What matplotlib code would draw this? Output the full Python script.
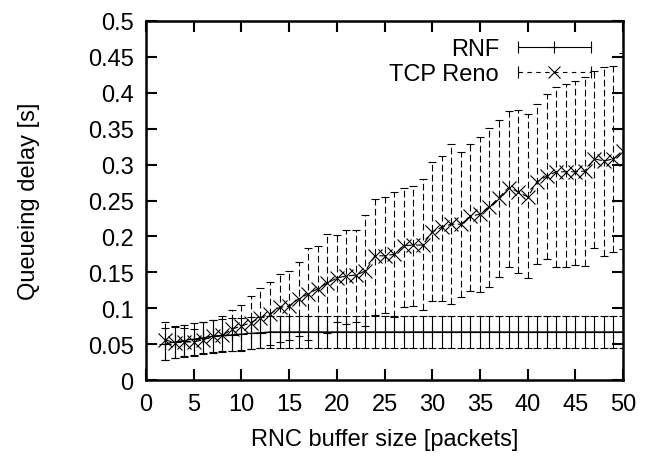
import matplotlib
matplotlib.use("Agg")
import matplotlib.pyplot as plt
from matplotlib.legend_handler import HandlerBase
from matplotlib.lines import Line2D

plt.rcParams["font.family"] = ["Liberation Sans", "DejaVu Sans"]

# buffer sizes [packets]
buffer_size = list(range(2, 51))

# RNF queueing delay [s]: mean, lower and upper bounds
rnf_mean = [0.050, 0.053, 0.055, 0.057, 0.059, 0.061, 0.062, 0.063, 0.064, 0.065, 0.066] + [0.067] * 38
rnf_low = [0.028, 0.030, 0.033, 0.035, 0.037, 0.039, 0.040, 0.041, 0.042, 0.043, 0.044] + [0.045] * 38
rnf_high = [0.072, 0.075, 0.077, 0.079, 0.081, 0.083, 0.085, 0.086, 0.087, 0.088, 0.088] + [0.089] * 38

# TCP Reno queueing delay [s]
reno_mean = [0.056, 0.052, 0.053, 0.053, 0.056, 0.061, 0.062, 0.071, 0.075, 0.080,
             0.087, 0.092, 0.101, 0.103, 0.113, 0.120, 0.127, 0.135, 0.142, 0.145,
             0.146, 0.152, 0.173, 0.173, 0.175, 0.187, 0.188, 0.188, 0.206, 0.213,
             0.217, 0.217, 0.228, 0.231, 0.241, 0.254, 0.268, 0.262, 0.255, 0.276,
             0.284, 0.290, 0.290, 0.290, 0.291, 0.308, 0.305, 0.308, 0.319]
reno_low = [0.028, 0.030, 0.032, 0.034, 0.036, 0.037, 0.039, 0.040, 0.041, 0.043,
            0.045, 0.049, 0.053, 0.056, 0.061, 0.056, 0.067, 0.066, 0.081, 0.078,
            0.081, 0.075, 0.090, 0.094, 0.088, 0.101, 0.103, 0.098, 0.110, 0.110,
            0.106, 0.115, 0.124, 0.122, 0.129, 0.144, 0.158, 0.149, 0.142, 0.162,
            0.169, 0.157, 0.158, 0.160, 0.159, 0.184, 0.173, 0.178, 0.182]
reno_high = [0.081, 0.074, 0.073, 0.071, 0.081, 0.083, 0.089, 0.098, 0.105, 0.117,
             0.128, 0.137, 0.148, 0.152, 0.164, 0.184, 0.187, 0.203, 0.202, 0.209,
             0.209, 0.230, 0.252, 0.255, 0.262, 0.267, 0.270, 0.280, 0.303, 0.312,
             0.329, 0.317, 0.329, 0.338, 0.351, 0.362, 0.374, 0.376, 0.370, 0.384,
             0.398, 0.408, 0.412, 0.416, 0.422, 0.430, 0.436, 0.437, 0.456]

DASH = (0, (6, 3))


class HorizontalErrorHandler(HandlerBase):
    # gnuplot-style key sample: |----marker----|
    def __init__(self, marker, ls):
        super().__init__()
        self.marker = marker
        self.ls = ls

    def create_artists(self, legend, orig_handle, xdescent, ydescent,
                       width, height, fontsize, trans):
        y = height / 2 - ydescent
        x0, x1 = -xdescent, width - xdescent
        line = Line2D([x0, x1], [y, y], color="black", lw=0.8, ls=self.ls)
        ends = Line2D([x0, x1], [y, y], color="black", ls="none",
                      marker="|", ms=9, mew=0.8)
        mid = Line2D([(x0 + x1) / 2], [y], color="black", ls="none",
                     marker=self.marker, ms=9, mew=0.8)
        for a in (line, ends, mid):
            a.set_transform(trans)
        return [line, ends, mid]


fig = plt.figure(figsize=(6.53, 4.6), dpi=100)
ax = fig.add_axes([0.2236, 0.1717, 0.7305, 0.7805])

rnf_err = [[m - lo for m, lo in zip(rnf_mean, rnf_low)],
           [hi - m for m, hi in zip(rnf_mean, rnf_high)]]
reno_err = [[m - lo for m, lo in zip(reno_mean, reno_low)],
            [hi - m for m, hi in zip(reno_mean, reno_high)]]

rnf = ax.errorbar(buffer_size, rnf_mean, yerr=rnf_err, color="black", lw=0.8,
                  marker="+", ms=9, mew=0.8, capsize=3, elinewidth=0.8,
                  capthick=0.8, label="RNF")
reno = ax.errorbar(buffer_size, reno_mean, yerr=reno_err, color="black", lw=0.8,
                   ls=DASH, marker="x", ms=10, mew=0.8, capsize=3,
                   elinewidth=0.8, capthick=0.8, label="TCP Reno")
for coll in reno[2]:
    coll.set_linestyle(DASH)

ax.set_xlim(0, 50)
ax.set_ylim(0, 0.5)
ax.set_xticks(range(0, 51, 5))
ax.set_yticks([i * 0.05 for i in range(11)])
ax.set_yticklabels(["0", "0.05", "0.1", "0.15", "0.2", "0.25", "0.3", "0.35",
                    "0.4", "0.45", "0.5"])
ax.tick_params(direction="in", length=8, width=1.5, top=True, right=True,
               labelsize=17, pad=9)
for sp in ax.spines.values():
    sp.set_linewidth(1.8)

ax.set_xlabel("RNC buffer size [packets]", fontsize=17, labelpad=10)
ax.set_ylabel("Queueing delay [s]", fontsize=17, labelpad=34)

ax.legend([rnf, reno], ["RNF", "TCP Reno"], loc="upper right", frameon=False,
          markerfirst=False, fontsize=17, handlelength=3.1, handletextpad=0.8,
          borderaxespad=0.0, borderpad=0.0, labelspacing=0.13,
          bbox_to_anchor=(0.933, 0.953),
          handler_map={rnf: HorizontalErrorHandler("+", "-"),
                       reno: HorizontalErrorHandler("x", (0, (4, 4)))})

fig.savefig("out.png", dpi=100)
